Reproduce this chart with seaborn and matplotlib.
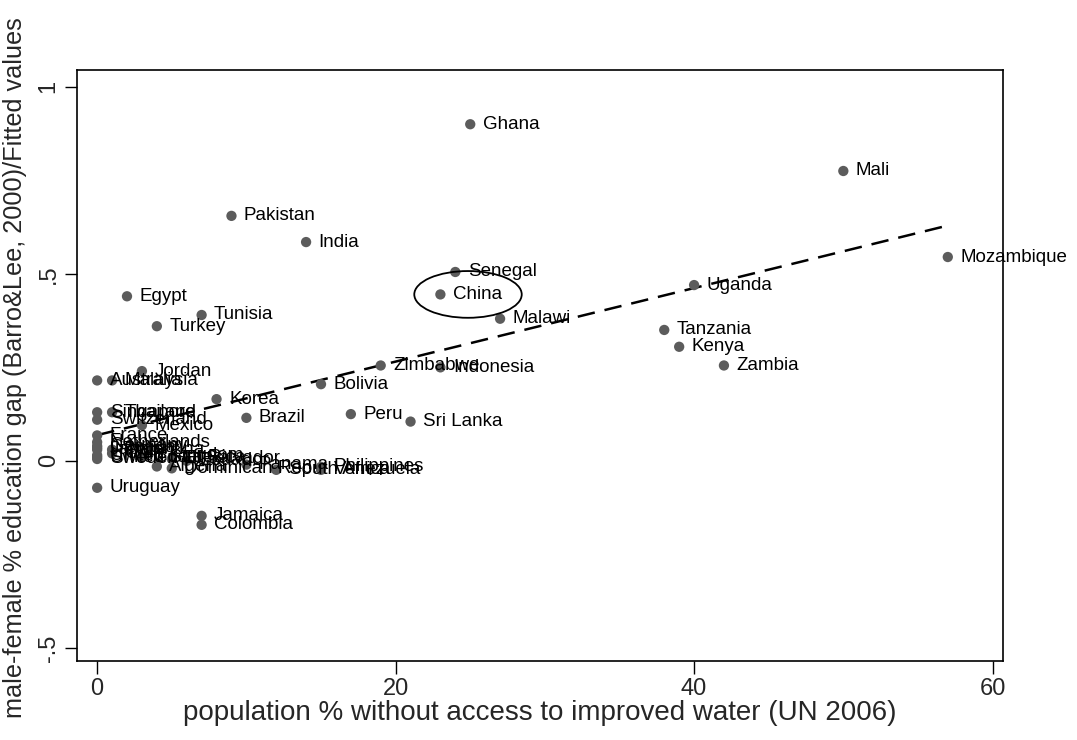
import matplotlib
matplotlib.use("Agg")
import matplotlib.pyplot as plt
import seaborn as sns
import pandas as pd
from matplotlib.patches import Ellipse

# values (x = % without improved water, y = education gap)
countries = ["Ghana", "Mali", "Pakistan", "India", "Senegal", "China", "Mozambique",
             "Uganda", "Egypt", "Tunisia", "Turkey", "Malawi", "Tanzania", "Kenya",
             "Zimbabwe", "Indonesia", "Zambia", "Jordan", "Australia", "Malaysia",
             "Bolivia", "Korea", "Brazil", "Peru", "Sri Lanka", "Singapore", "Thailand",
             "Switzerland", "Mexico", "France", "Netherlands", "Germany", "Canada",
             "Japan", "United Kingdom", "United States", "Sweden", "Argentina", "Chile",
             "Costa Rica", "El Salvador", "Ecuador", "Algeria", "Dominican Rep.",
             "Panama", "South Africa", "Philippines", "Venezuela", "Uruguay",
             "Jamaica", "Colombia"]
water = [25, 50, 9, 14, 24, 23, 57,
         40, 2, 7, 4, 27, 38, 39,
         19, 23, 42, 3, 0, 1,
         15, 8, 10, 17, 21, 0, 1,
         0, 3, 0, 0, 0, 0,
         0, 0, 0, 0, 1, 1,
         3, 5, 6, 4, 5,
         10, 12, 15, 15, 0,
         7, 7]
gap = [0.90, 0.775, 0.655, 0.585, 0.505, 0.445, 0.545,
       0.47, 0.44, 0.39, 0.36, 0.38, 0.35, 0.305,
       0.255, 0.25, 0.255, 0.24, 0.215, 0.215,
       0.205, 0.165, 0.115, 0.125, 0.105, 0.13, 0.13,
       0.11, 0.095, 0.068, 0.05, 0.04, 0.035,
       0.03, 0.015, 0.01, 0.005, 0.03, 0.02,
       0.01, 0.005, 0.0, -0.015, -0.02,
       -0.01, -0.024, -0.016, -0.024, -0.072,
       -0.147, -0.171]

df = pd.DataFrame({"country": countries, "water": water, "gap": gap})

sns.set_style("white")
plt.rcParams["font.family"] = ["Liberation Sans", "DejaVu Sans"]

fig = plt.figure(figsize=(10.77, 7.40), dpi=100)
ax = fig.add_axes([0.0715, 0.1068, 0.8598, 0.7986])

sns.regplot(data=df, x="water", y="gap", scatter=False, ci=None, ax=ax,
            line_kws=dict(color="black", lw=1.8, ls=(0, (7, 4))))
sns.scatterplot(data=df, x="water", y="gap", ax=ax, s=55, color="#5c5c5c",
                edgecolor="none", zorder=3)

for c, xv, yv in zip(countries, water, gap):
    ax.annotate(c, (xv, yv), xytext=(9, 0), textcoords="offset points",
                va="center", ha="left", fontsize=13.5, color="black",
                annotation_clip=False, clip_on=False)

# ring around China
ci = countries.index("China")
ax.add_patch(Ellipse((water[ci] + 1.85, gap[ci]), 7.2, 0.125, fill=False,
                     ec="black", lw=1.3, zorder=4))

ax.set_xlim(-1.35, 60.7)
ax.set_ylim(-0.535, 1.045)
ax.set_xticks([0, 20, 40, 60])
ax.set_yticks([-0.5, 0, 0.5, 1])
ax.set_yticklabels(["-.5", "0", ".5", "1"], rotation=90, va="center")
ax.tick_params(axis="both", direction="out", length=9, width=1, color="black",
               labelsize=17, left=True, bottom=True)
ax.set_xlabel("population % without access to improved water (UN 2006)",
              fontsize=20, labelpad=0)
ax.set_ylabel("")
fig.text(0.014, 0.503, "male-female % education gap (Barro&Lee, 2000)/Fitted values",
         rotation=90, va="center", ha="center", fontsize=18.2)

for sp in ax.spines.values():
    sp.set_color("black")
    sp.set_linewidth(1.2)

fig.savefig("out.png", dpi=100)
